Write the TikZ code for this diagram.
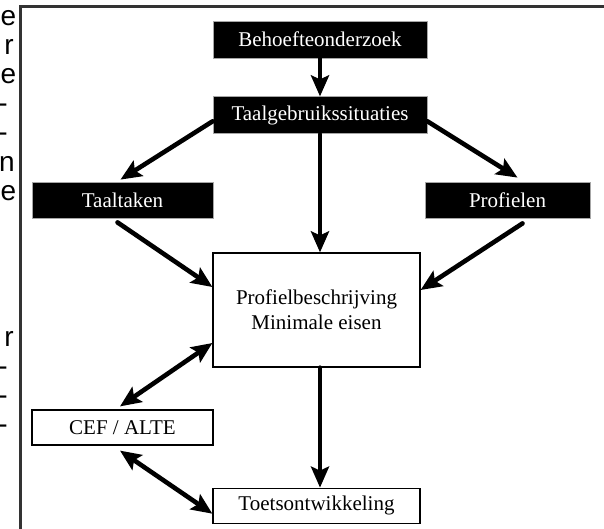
\documentclass[tikz,border=0pt]{standalone}
\usepackage{fontspec}
\setmainfont{Liberation Serif}
\newfontfamily\pagefont{Liberation Sans}
\usepackage{tikz}
\usetikzlibrary{positioning,arrows.meta}

\begin{document}
\begin{tikzpicture}[x=1pt,y=1pt]
\tikzset{basic/.style={draw,rectangle,inner sep=0pt,font=\fontsize{21}{25}\selectfont,align=center}}
\tikzset{darkbox/.style={basic,draw=gray!70,fill=black,text=white,line width=0.8pt,minimum height=37pt}}
\tikzset{lightbox/.style={basic,draw=black,fill=white,line width=1.2pt,minimum height=35pt}}
\tikzset{arr/.style={draw,line width=4.6pt,line cap=round,-{Stealth[length=21pt,width=18pt,inset=4pt]}}}
\tikzset{biarr/.style={arr,{Stealth[length=21pt,width=18pt,inset=4pt]}-{Stealth[length=21pt,width=18pt,inset=4pt]}}}
	\useasboundingbox (0,0) rectangle (604,-528);
	\draw[black!80,line width=3pt] (610,-6) -- (20,-6) -- (20,-535);
	\foreach \i/\c/\x in {0/e/16.5,1/r/14,2/e/16.5,3/-/8,4/-/8,5/n/15,6/e/16.5,11/r/14,12/-/8,13/-/8,14/-/8}
		\node[anchor=base east,inner sep=0pt,font=\pagefont\fontsize{28}{29}\selectfont] (p\i) at (\x,-25-29.2*\i) {\c};
	\node[darkbox,minimum width=214pt] (beh) at (320,-39.5) {Behoefteonderzoek};
	\node[darkbox,minimum width=214pt,below=38pt of beh] (taal) {Taalgebruikssituaties};
	\node[darkbox,minimum width=181pt,minimum height=36pt] (taken) at (122.5,-200) {Taaltaken};
	\node[darkbox,minimum width=165pt,minimum height=36pt] (prof) at (507.5,-200) {Profielen};
	\node[lightbox,minimum width=207pt,minimum height=114pt] (besch) at (316.5,-310) {Profielbeschrijving\\Minimale eisen};
	\node[lightbox,minimum width=181pt] (cef) at (122.5,-427.5) {CEF / ALTE};
	\node[lightbox,minimum width=207pt,below=120pt of besch] (toets) {Toetsontwikkeling};
		\path[arr] (beh) -- (taal);
		\path[arr] ([yshift=-6pt]taal.west) -- ([xshift=-2pt,yshift=2pt]taken.north);
		\path[arr] ([yshift=-6pt]taal.east) -- ([xshift=10pt,yshift=4pt]prof.north);
		\path[arr] (taal.south) -- (taal.south |- besch.north);
		\path[arr] ([xshift=-5pt,yshift=-4pt]taken.south) -- ([yshift=23pt]besch.west);
		\path[arr] ([xshift=15pt,yshift=-5pt]prof.south) -- ([yshift=20pt]besch.east);
		\path[biarr] ([yshift=-33pt]besch.west) -- ([xshift=-2.5pt,yshift=3pt]cef.north);
		\path[biarr] ([xshift=-2.5pt,yshift=-5pt]cef.south) -- ([yshift=-8pt]toets.west);
		\path[arr] (taal.south |- besch.south) -- (taal.south |- toets.north);
\end{tikzpicture}
\end{document}
